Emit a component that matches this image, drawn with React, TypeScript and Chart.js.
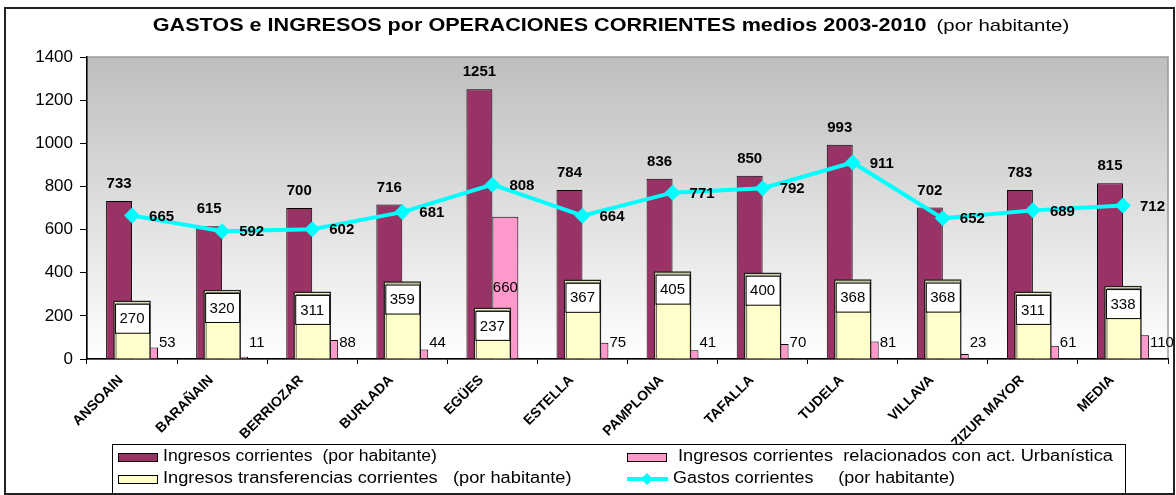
import React, { useEffect, useRef } from "react";
import { Chart, registerables } from "chart.js";

Chart.register(...registerables);

// ---------- DATA ----------
const categories = [
  "ANSOAIN",
  "BARAÑAIN",
  "BERRIOZAR",
  "BURLADA",
  "EGÜES",
  "ESTELLA",
  "PAMPLONA",
  "TAFALLA",
  "TUDELA",
  "VILLAVA",
  "ZIZUR MAYOR",
  "MEDIA",
];
const ingresosCorrientes = [733, 615, 700, 716, 1251, 784, 836, 850, 993, 702, 783, 815];
const ingresosTransferencias = [270, 320, 311, 359, 237, 367, 405, 400, 368, 368, 311, 338];
const ingresosUrbanistica = [53, 11, 88, 44, 660, 75, 41, 70, 81, 23, 61, 110];
const gastosCorrientes = [665, 592, 602, 681, 808, 664, 771, 792, 911, 652, 689, 712];
const yTickValues = [0, 200, 400, 600, 800, 1000, 1200, 1400];

const seriesNames = [
  "Ingresos corrientes  (por habitante)",
  "Ingresos corrientes  relacionados con act. Urbanística",
  "Ingresos transferencias corrientes   (por habitante)",
  "Gastos corrientes     (por habitante)",
];
const titleBold = "GASTOS e INGRESOS por OPERACIONES CORRIENTES medios 2003-2010";
const titleNormal = "(por habitante)";

// ---------- STYLE ----------
const FONT = '"Liberation Sans", Arial, sans-serif';
const C_MAROON = "#993366";
const C_PINK = "#FF99CC";
const C_YELLOW = "#FFFFCC";
const C_CYAN = "#00FFFF";

function txt(
  ctx: CanvasRenderingContext2D,
  s: string,
  x: number,
  y: number,
  font: string,
  align: "left" | "center" | "right" = "left",
  sx = 1
) {
  ctx.save();
  ctx.font = font;
  ctx.textBaseline = "middle";
  ctx.textAlign = "left";
  ctx.fillStyle = "#000";
  const w = ctx.measureText(s).width * sx;
  const left = align === "center" ? x - w / 2 : align === "right" ? x - w : x;
  ctx.translate(left, y);
  ctx.scale(sx, 1);
  ctx.fillText(s, 0, 0);
  ctx.restore();
  return w;
}

const decorPlugin = {
  id: "decor",
  beforeDraw(chart: any) {
    const { ctx, chartArea: a } = chart;
    ctx.save();
    ctx.fillStyle = "#fff";
    ctx.fillRect(0, 0, chart.width, chart.height);
    const g = ctx.createLinearGradient(0, a.top, 0, a.bottom);
    g.addColorStop(0, "#BEBEBE");
    g.addColorStop(1, "#FFFFFF");
    ctx.fillStyle = g;
    ctx.fillRect(a.left, a.top, a.right - a.left, a.bottom - a.top);
    ctx.strokeStyle = "#9A9A9A";
    ctx.lineWidth = 1.5;
    ctx.strokeRect(a.left, a.top, a.right - a.left, a.bottom - a.top);
    ctx.restore();
  },
  afterDatasetsDraw(chart: any) {
    const { ctx } = chart;
    const yScale = chart.scales.y;
    const zeroY = yScale.getPixelForValue(0);
    // Ingresos corrientes labels (bold, above bar)
    chart.getDatasetMeta(0).data.forEach((el: any, i: number) => {
      txt(ctx, String(ingresosCorrientes[i]), el.x, el.y - 17, `bold 15px ${FONT}`, "center");
    });
    // Urbanística labels
    chart.getDatasetMeta(1).data.forEach((el: any, i: number) => {
      const v = ingresosUrbanistica[i];
      if (v > 200) {
        txt(ctx, String(v), el.x, yScale.getPixelForValue(v / 2), `15px ${FONT}`, "center");
      } else {
        txt(ctx, String(v), el.x + el.width / 2 + 1, zeroY - 16, `15px ${FONT}`, "left");
      }
    });
    // Transferencias: inner frame line + labels in white boxes
    chart.getDatasetMeta(2).data.forEach((el: any, i: number) => {
      const half = el.width / 2;
      ctx.save();
      ctx.strokeStyle = "#6a6a60";
      ctx.lineWidth = 1;
      ctx.beginPath();
      ctx.moveTo(el.x - half + 2.5, zeroY);
      ctx.lineTo(el.x - half + 2.5, el.y + 2.5);
      ctx.lineTo(el.x + half - 1.5, el.y + 2.5);
      ctx.stroke();
      ctx.restore();

      const bw = 34;
      const bh = 29;
      const left = el.x - bw / 2;
      const top = el.y + 3;
      ctx.save();
      ctx.fillStyle = "#fff";
      ctx.fillRect(left, top, bw, bh);
      ctx.strokeStyle = "#000";
      ctx.lineWidth = 1;
      ctx.strokeRect(left + 0.5, top + 0.5, bw, bh);
      ctx.restore();
      txt(ctx, String(ingresosTransferencias[i]), el.x, top + bh / 2 + 1, `15px ${FONT}`, "center");
    });
    // Gastos labels
    chart.getDatasetMeta(3).data.forEach((el: any, i: number) => {
      txt(ctx, String(gastosCorrientes[i]), el.x + 17, el.y + 1, `bold 15px ${FONT}`, "left");
    });
  },
  afterDraw(chart: any) {
    const { ctx } = chart;
    // title
    const sx = 1.2;
    ctx.save();
    ctx.font = `bold 18px ${FONT}`;
    const wb = ctx.measureText(titleBold).width * sx;
    ctx.font = `17px ${FONT}`;
    const wn = ctx.measureText(titleNormal).width * sx;
    ctx.restore();
    const gap = 10;
    const total = wb + gap + wn;
    const startX = 611 - total / 2;
    txt(ctx, titleBold, startX, 26, `bold 18px ${FONT}`, "left", sx);
    txt(ctx, titleNormal, startX + wb + gap, 26, `17px ${FONT}`, "left", sx);

    // legend box
    const lx = 112, ly = 444, lw = 1013, lh = 49;
    ctx.save();
    ctx.fillStyle = "#fff";
    ctx.fillRect(lx, ly, lw, lh);
    ctx.strokeStyle = "#000";
    ctx.lineWidth = 1;
    ctx.strokeRect(lx + 0.5, ly + 0.5, lw, lh);
    ctx.restore();
    const rows = [457, 479];
    const cols = [118, 627];
    const items = [
      { name: seriesNames[0], kind: "box", color: C_MAROON, col: 0, row: 0 },
      { name: seriesNames[1], kind: "box", color: C_PINK, col: 1, row: 0 },
      { name: seriesNames[2], kind: "box", color: C_YELLOW, col: 0, row: 1 },
      { name: seriesNames[3], kind: "line", color: C_CYAN, col: 1, row: 1 },
    ];
    const lf = `16px ${FONT}`;
    items.forEach((it) => {
      const x = cols[it.col];
      const y = rows[it.row];
      const lsx = it.row === 0 && it.col === 0 ? 1.1 : 1.14;
      ctx.save();
      if (it.kind === "box") {
        ctx.fillStyle = it.color;
        ctx.fillRect(x, y - 4, 39, 8);
        ctx.strokeStyle = "#000";
        ctx.lineWidth = 1;
        ctx.strokeRect(x + 0.5, y - 3.5, 39, 8);
        ctx.restore();
        txt(ctx, it.name, x + (it.col === 1 ? 51 : 45), y, lf, "left", lsx);
      } else {
        ctx.strokeStyle = it.color;
        ctx.lineWidth = 4;
        ctx.beginPath();
        ctx.moveTo(x, y);
        ctx.lineTo(x + 41, y);
        ctx.stroke();
        ctx.fillStyle = it.color;
        ctx.beginPath();
        ctx.moveTo(x + 20, y - 6);
        ctx.lineTo(x + 26, y);
        ctx.lineTo(x + 20, y + 6);
        ctx.lineTo(x + 14, y);
        ctx.closePath();
        ctx.fill();
        ctx.restore();
        txt(ctx, it.name, x + 46, y, lf, "left", 1.12);
      }
    });

    // outer border
    ctx.save();
    ctx.strokeStyle = "#222";
    ctx.lineWidth = 2;
    ctx.strokeRect(5, 8, 1169, 486);
    ctx.restore();
  },
};

export default function App() {
  const ref = useRef<HTMLCanvasElement | null>(null);

  useEffect(() => {
    if (!ref.current) return;
    const chart = new Chart(ref.current, {
      type: "bar",
      data: {
        labels: categories,
        datasets: [
          {
            type: "bar",
            label: seriesNames[0],
            data: ingresosCorrientes,
            backgroundColor: C_MAROON,
            borderColor: "#000",
            borderWidth: 1,
            categoryPercentage: 0.576,
            barPercentage: 1,
            order: 3,
          },
          {
            type: "bar",
            label: seriesNames[1],
            data: ingresosUrbanistica,
            backgroundColor: C_PINK,
            borderColor: "#000",
            borderWidth: 1,
            categoryPercentage: 0.576,
            barPercentage: 1,
            order: 3,
          },
          {
            type: "bar",
            label: seriesNames[2],
            data: ingresosTransferencias,
            backgroundColor: C_YELLOW,
            borderColor: "#222",
            borderWidth: 1.5,
            grouped: false,
            barThickness: 37,
            order: 2,
          } as any,
          {
            type: "line",
            label: seriesNames[3],
            data: gastosCorrientes,
            borderColor: C_CYAN,
            backgroundColor: C_CYAN,
            borderWidth: 4,
            pointStyle: "rectRot",
            pointRadius: 8,
            pointBorderWidth: 0,
            pointBackgroundColor: C_CYAN,
            order: 1,
          } as any,
        ],
      },
      options: {
        animation: false,
        responsive: true,
        maintainAspectRatio: false,
        layout: { padding: { top: 57, right: 6, left: 0, bottom: 0 } },
        plugins: {
          legend: { display: false },
          title: { display: false },
          tooltip: { enabled: false },
        },
        scales: {
          x: {
            type: "category",
            offset: true,
            grid: {
              display: true,
              drawOnChartArea: false,
              offset: true,
              tickLength: 5,
              color: "#000",
            },
            border: { display: true, color: "#000", width: 1.5 },
            ticks: {
              color: "#000",
              font: { family: FONT, size: 14, weight: "bold" },
              minRotation: 45,
              maxRotation: 45,
              autoSkip: false,
              labelOffset: -11,
              padding: 8,
            },
            afterFit: (s: any) => {
              s.height = 136;
            },
          },
          y: {
            min: 0,
            max: 1400,
            afterBuildTicks: (s: any) => {
              s.ticks = yTickValues.map((v) => ({ value: v }));
            },
            grid: {
              display: true,
              drawOnChartArea: false,
              tickLength: 7,
              color: "#000",
            },
            border: { display: true, color: "#000", width: 1.5 },
            ticks: {
              color: "#000",
              font: { family: FONT, size: 17 },
              padding: 7,
              callback: (v: any) => String(v),
            },
            afterFit: (s: any) => {
              s.width = 87;
            },
          },
        },
      },
      plugins: [decorPlugin],
    });
    return () => chart.destroy();
  }, []);

  return (
    <div
      style={{
        position: "fixed",
        left: 0,
        top: 0,
        width: 1176,
        height: 495,
        background: "#fff",
      }}
    >
      <canvas ref={ref} />
    </div>
  );
}
